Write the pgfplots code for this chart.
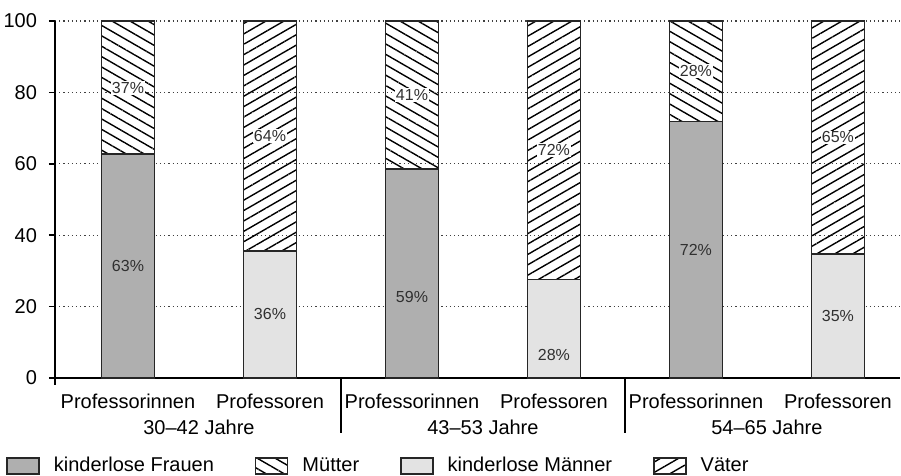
\documentclass[border=0pt]{standalone}
\usepackage{fontspec}
\setmainfont{Liberation Sans}
\usepackage{pgfplots}
\pgfplotsset{compat=1.18}
\usepackage{pgfplotstable}
\usetikzlibrary{patterns.meta}

\definecolor{dgray}{HTML}{AFAFAF}
\definecolor{lgray}{HTML}{E3E3E3}
\definecolor{edge}{HTML}{262626}
\definecolor{lbl}{HTML}{303030}

\pgfplotstableread{
x F M K V
0 62.7 37.3 0 0
1 0 0 35.6 64.4
2 58.6 41.4 0 0
3 0 0 27.6 72.4
4 71.8 28.2 0 0
5 0 0 34.8 65.2
}\bardata

% label positions (as placed in the reference)
\pgfplotstableread{
x y v
0 81.3 37
1 67.8 64
2 79.3 41
3 63.8 72
4 85.9 28
5 67.4 65
}\hatchlabels

\pgfplotstableread{
x y v
0 31.3 63
1 17.8 36
2 22.7 59
3 6.4 28
4 35.9 72
5 17.4 35
}\graylabels

\pgfplotsset{common/.style={
  scale only axis,
  width=422.5pt, height=178.5pt,
  xmin=-0.514, xmax=5.437,
  ymin=0, ymax=100, clip=false,
  /pgf/number format/assume math mode=true}}

\begin{document}
\begin{tikzpicture}
\begin{axis}[
  common,
  ybar stacked, bar width=26.5pt,
  axis x line*=bottom, axis y line*=left,
  axis line style={line width=1pt, black},
  ytick={0,20,40,60,80,100},
  xtick={0,1,2,3,4,5},
  xticklabels={Professorinnen,Professoren,Professorinnen,Professoren,Professorinnen,Professoren},
  tick align=outside, major tick length=3pt,
  major x tick style={draw=none},
  major y tick style={line width=0.8pt, black},
  ymajorgrids,
  grid style={line width=0.6pt, black!75, dash pattern=on 0.6pt off 1.5pt},
  tick label style={font=\fontsize{10}{12}\selectfont},
  xticklabel style={anchor=base, yshift=-12.5pt},
  yticklabel style={xshift=-2.5pt},
  legend columns=4,
  legend style={draw=none, fill=none, at={(0,0)}, anchor=west, xshift=-24.5pt, yshift=-44pt,
    font=\fontsize{10}{12}\selectfont, inner sep=0pt,
    /tikz/every odd column/.append style={column sep=5pt},
    /tikz/every even column/.append style={column sep=18.5pt}},
  legend image code/.code={\draw[#1] (0pt,-4pt) rectangle (16pt,4pt);},
]
\addplot[fill=dgray, draw=edge, line width=0.75pt] table[x=x, y=F] {\bardata};
\addplot[pattern={Lines[angle=-30, distance=4.5pt, line width=0.7pt]}, pattern color=black, draw=edge, line width=0.75pt] table[x=x, y=M] {\bardata};
\addplot[fill=lgray, draw=edge, line width=0.75pt] table[x=x, y=K] {\bardata};
\addplot[pattern={Lines[angle=30, distance=4.5pt, line width=0.7pt]}, pattern color=black, draw=edge, line width=0.75pt] table[x=x, y=V] {\bardata};
\legend{kinderlose Frauen, Mütter, kinderlose Männer, Väter}

\draw[line width=0.75pt] (axis cs:1.5,0) -- ++(0pt,-27.5pt);
\draw[line width=0.75pt] (axis cs:3.5,0) -- ++(0pt,-27.5pt);
\draw[line width=1pt] (rel axis cs:0,0) -- ++(0pt,-3.5pt);
\node[anchor=base, font=\fontsize{10}{12}\selectfont] at ([yshift=-28.5pt]axis cs:0.5,0) {30–42 Jahre};
\node[anchor=base, font=\fontsize{10}{12}\selectfont] at ([yshift=-28.5pt]axis cs:2.5,0) {43–53 Jahre};
\node[anchor=base, font=\fontsize{10}{12}\selectfont] at ([yshift=-28.5pt]axis cs:4.5,0) {54–65 Jahre};
\end{axis}
\begin{axis}[common, hide axis]
\addplot[only marks, mark=none, draw=none,
  point meta=explicit, nodes near coords={\pgfmathprintnumber{\pgfplotspointmeta}\%},
  every node near coord/.append style={anchor=center, fill=white, inner sep=0.6pt, text=lbl, font=\fontsize{8}{9}\selectfont}]
  table[x=x, y=y, meta=v] {\hatchlabels};
\addplot[only marks, mark=none, draw=none,
  point meta=explicit, nodes near coords={\pgfmathprintnumber{\pgfplotspointmeta}\%},
  every node near coord/.append style={anchor=center, inner sep=0.6pt, text=lbl, font=\fontsize{8}{9}\selectfont}]
  table[x=x, y=y, meta=v] {\graylabels};
\end{axis}
\pgfresetboundingbox
\path (-27.5pt,-49pt) rectangle (423pt,189pt);
\end{tikzpicture}
\end{document}
